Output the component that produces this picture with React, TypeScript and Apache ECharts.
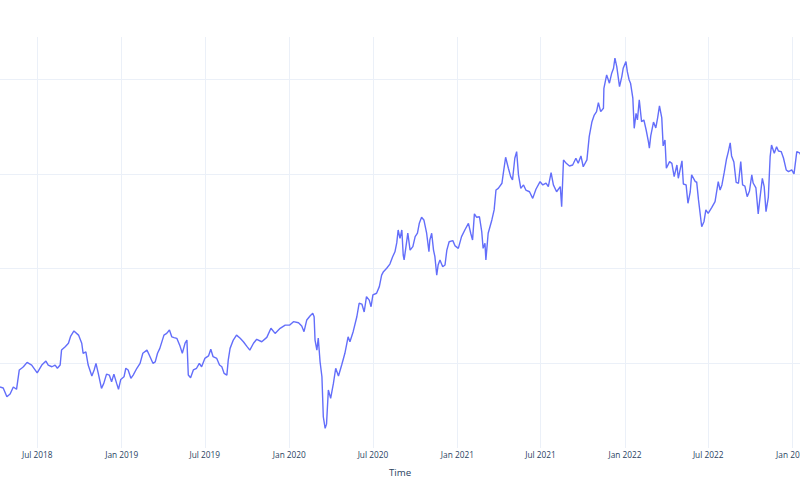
import React, { useEffect, useRef } from "react";
import * as echarts from "echarts";

const prices2018: [string, number][] = [
  ["2018-04-11", 87.5], ["2018-04-18", 87.0], ["2018-04-26", 82.4], ["2018-05-03", 83.8], ["2018-05-10", 87.5],
  ["2018-05-17", 86.3], ["2018-05-23", 96.5], ["2018-05-28", 97.4], ["2018-06-01", 98.2], ["2018-06-09", 100.5],
  ["2018-06-19", 99.1], ["2018-07-01", 95.0], ["2018-07-11", 99.1], ["2018-07-20", 101.2], ["2018-07-25", 99.1],
  ["2018-08-02", 98.2], ["2018-08-09", 99.1], ["2018-08-14", 97.4], ["2018-08-20", 99.1], ["2018-08-23", 107.0],
  ["2018-08-31", 108.8], ["2018-09-07", 110.6], ["2018-09-12", 114.4], ["2018-09-19", 117.1], ["2018-09-29", 114.9],
  ["2018-10-06", 110.6], ["2018-10-09", 105.3], ["2018-10-15", 106.1], ["2018-10-20", 99.1], ["2018-10-28", 93.3],
  ["2018-11-02", 96.5], ["2018-11-06", 100.0], ["2018-11-11", 94.7], ["2018-11-18", 86.8], ["2018-11-23", 89.4],
  ["2018-11-29", 94.3], ["2018-12-05", 93.8], ["2018-12-10", 90.3], ["2018-12-15", 94.3], ["2018-12-21", 89.4],
  ["2018-12-25", 86.3], ["2018-12-30", 91.5],
];

const prices2019: [string, number][] = [
  ["2019-01-06", 92.9], ["2019-01-10", 97.4], ["2019-01-15", 96.5], ["2019-01-21", 92.1], ["2019-01-26", 93.8],
  ["2019-02-03", 97.4], ["2019-02-10", 100.0], ["2019-02-16", 105.3], ["2019-02-25", 107.0], ["2019-03-02", 104.4],
  ["2019-03-10", 100.0], ["2019-03-15", 100.8], ["2019-03-20", 105.3], ["2019-03-25", 107.9], ["2019-04-03", 114.9],
  ["2019-04-09", 115.8], ["2019-04-15", 117.6], ["2019-04-20", 114.0], ["2019-04-25", 113.6], ["2019-05-01", 113.2],
  ["2019-05-08", 109.1], ["2019-05-13", 105.3], ["2019-05-19", 110.7], ["2019-05-23", 112.3], ["2019-05-26", 93.8],
  ["2019-05-31", 92.4], ["2019-06-06", 96.5], ["2019-06-13", 97.4], ["2019-06-19", 100.0], ["2019-06-24", 98.2],
  ["2019-07-01", 102.6], ["2019-07-09", 103.9], ["2019-07-14", 107.4], ["2019-07-19", 103.5], ["2019-07-27", 102.6],
  ["2019-08-02", 99.1], ["2019-08-07", 98.2], ["2019-08-12", 94.7], ["2019-08-18", 93.8], ["2019-08-21", 101.7],
  ["2019-08-25", 107.9], ["2019-09-01", 112.3], ["2019-09-08", 114.9], ["2019-09-16", 113.2], ["2019-09-23", 111.4],
  ["2019-10-01", 108.8], ["2019-10-07", 107.0], ["2019-10-15", 110.6], ["2019-10-22", 112.7], ["2019-11-02", 111.4],
  ["2019-11-13", 113.7], ["2019-11-22", 118.5], ["2019-12-01", 115.8], ["2019-12-12", 118.5], ["2019-12-23", 120.2],
];

const prices2020: [string, number][] = [
  ["2020-01-02", 120.2], ["2020-01-10", 122.0], ["2020-01-21", 121.4], ["2020-01-28", 119.7], ["2020-02-02", 116.7],
  ["2020-02-08", 122.9], ["2020-02-15", 125.0], ["2020-02-21", 126.4], ["2020-02-24", 124.6], ["2020-02-26", 112.3],
  ["2020-03-01", 107.0], ["2020-03-04", 113.4], ["2020-03-08", 100.7], ["2020-03-12", 92.9], ["2020-03-15", 71.8],
  ["2020-03-19", 65.7], ["2020-03-22", 67.9], ["2020-03-26", 85.9], ["2020-03-31", 81.5], ["2020-04-06", 89.4],
  ["2020-04-11", 97.4], ["2020-04-17", 93.3], ["2020-04-24", 99.1], ["2020-05-01", 105.3], ["2020-05-08", 114.0],
  ["2020-05-12", 111.4], ["2020-05-19", 116.7], ["2020-05-27", 124.6], ["2020-06-01", 131.7], ["2020-06-07", 131.3],
  ["2020-06-12", 127.1], ["2020-06-17", 135.2], ["2020-06-23", 133.4], ["2020-06-27", 129.9], ["2020-07-01", 136.1],
  ["2020-07-09", 137.0], ["2020-07-15", 140.5], ["2020-07-20", 146.6], ["2020-07-24", 148.4], ["2020-07-31", 150.2],
  ["2020-08-07", 152.4], ["2020-08-13", 156.3], ["2020-08-18", 158.9], ["2020-08-22", 163.7], ["2020-08-25", 170.4],
  ["2020-08-29", 166.0], ["2020-09-02", 170.4], ["2020-09-05", 157.2], ["2020-09-07", 154.6], ["2020-09-11", 161.6],
  ["2020-09-15", 168.7], ["2020-09-20", 159.8], ["2020-09-26", 161.6], ["2020-10-01", 166.9], ["2020-10-06", 168.7],
  ["2020-10-10", 173.9], ["2020-10-15", 177.1], ["2020-10-20", 175.7], ["2020-10-26", 168.7], ["2020-10-31", 158.9],
  ["2020-11-02", 165.1], ["2020-11-06", 168.7], ["2020-11-10", 159.8], ["2020-11-13", 156.3], ["2020-11-17", 146.6],
  ["2020-11-20", 151.9], ["2020-11-24", 154.6], ["2020-11-30", 151.0], ["2020-12-05", 151.9], ["2020-12-09", 159.8],
  ["2020-12-14", 164.2], ["2020-12-22", 164.8], ["2020-12-27", 162.0],
];

const prices2021: [string, number][] = [
  ["2021-01-03", 160.7], ["2021-01-10", 166.9], ["2021-01-18", 170.8], ["2021-01-25", 173.9], ["2021-01-30", 168.7],
  ["2021-02-03", 165.1], ["2021-02-07", 178.9], ["2021-02-12", 177.1], ["2021-02-18", 177.4], ["2021-02-23", 169.5],
  ["2021-02-26", 160.7], ["2021-03-02", 163.4], ["2021-03-04", 154.6], ["2021-03-09", 168.7], ["2021-03-17", 175.7],
  ["2021-03-22", 181.0], ["2021-03-26", 191.5], ["2021-03-31", 192.4], ["2021-04-08", 195.1], ["2021-04-11", 200.4],
  ["2021-04-16", 208.8], ["2021-04-22", 203.0], ["2021-04-27", 198.6], ["2021-05-01", 196.8], ["2021-05-06", 208.3],
  ["2021-05-10", 211.8], ["2021-05-14", 199.5], ["2021-05-19", 192.4], ["2021-05-25", 194.2], ["2021-05-30", 191.5],
  ["2021-06-07", 190.6], ["2021-06-14", 187.1], ["2021-06-21", 191.9], ["2021-06-30", 195.9], ["2021-07-06", 194.2],
  ["2021-07-13", 195.1], ["2021-07-18", 193.3], ["2021-07-24", 200.7], ["2021-07-29", 194.2], ["2021-08-05", 190.6],
  ["2021-08-13", 193.3], ["2021-08-16", 182.7], ["2021-08-20", 207.4], ["2021-08-26", 205.6], ["2021-09-02", 204.2],
  ["2021-09-09", 204.7], ["2021-09-16", 208.3], ["2021-09-21", 205.6], ["2021-09-27", 209.5], ["2021-10-02", 203.8],
  ["2021-10-10", 207.4], ["2021-10-15", 219.7], ["2021-10-21", 227.6], ["2021-10-26", 231.1], ["2021-10-31", 232.9],
  ["2021-11-04", 237.6], ["2021-11-09", 232.9], ["2021-11-15", 234.7], ["2021-11-16", 245.2], ["2021-11-22", 252.3],
  ["2021-11-28", 247.9], ["2021-12-03", 253.2], ["2021-12-07", 255.8], ["2021-12-10", 261.1], ["2021-12-14", 256.7],
  ["2021-12-20", 246.1], ["2021-12-25", 251.4], ["2021-12-28", 255.8],
];

const prices2022: [string, number][] = [
  ["2022-01-03", 259.3], ["2022-01-06", 254.0], ["2022-01-10", 249.6], ["2022-01-13", 247.9], ["2022-01-18", 240.0],
  ["2022-01-21", 224.1], ["2022-01-25", 232.0], ["2022-01-28", 228.5], ["2022-02-01", 239.1], ["2022-02-06", 227.6],
  ["2022-02-11", 228.5], ["2022-02-16", 223.2], ["2022-02-21", 216.9], ["2022-02-23", 213.6], ["2022-02-26", 220.1],
  ["2022-03-04", 227.4], ["2022-03-09", 224.3], ["2022-03-13", 229.6], ["2022-03-17", 235.9], ["2022-03-22", 229.6],
  ["2022-03-25", 214.8], ["2022-03-29", 217.9], ["2022-04-01", 203.0], ["2022-04-08", 206.5], ["2022-04-13", 205.6],
  ["2022-04-18", 198.6], ["2022-04-24", 204.7], ["2022-04-27", 197.7], ["2022-05-05", 206.9], ["2022-05-08", 194.7],
  ["2022-05-14", 194.2], ["2022-05-18", 184.5], ["2022-05-23", 190.6], ["2022-05-26", 199.5], ["2022-06-03", 195.9],
  ["2022-06-06", 195.8], ["2022-06-10", 186.3], ["2022-06-17", 172.1], ["2022-06-22", 174.9], ["2022-06-26", 181.0],
  ["2022-07-01", 179.2], ["2022-07-09", 182.3], ["2022-07-16", 185.4], ["2022-07-23", 195.9], ["2022-07-27", 191.5],
  ["2022-07-31", 194.2], ["2022-08-05", 200.8], ["2022-08-10", 207.9], ["2022-08-14", 211.8], ["2022-08-18", 216.4],
  ["2022-08-21", 209.5], ["2022-08-26", 206.3], ["2022-08-31", 195.5], ["2022-09-05", 195.1], ["2022-09-10", 206.5],
  ["2022-09-14", 194.2], ["2022-09-19", 193.6], ["2022-09-24", 188.0], ["2022-09-29", 191.0], ["2022-10-04", 199.5],
  ["2022-10-07", 195.2], ["2022-10-13", 192.6], ["2022-10-18", 178.9], ["2022-10-22", 187.6], ["2022-10-27", 197.7],
  ["2022-10-31", 193.3], ["2022-11-04", 180.1], ["2022-11-09", 187.6], ["2022-11-13", 209.1], ["2022-11-16", 215.3],
  ["2022-11-22", 210.9], ["2022-11-27", 214.4], ["2022-12-01", 212.1], ["2022-12-07", 211.8], ["2022-12-12", 208.4],
  ["2022-12-18", 202.1], ["2022-12-23", 201.2], ["2022-12-30", 202.1],
];

const prices2023: [string, number][] = [
  ["2023-01-04", 200.0], ["2023-01-10", 211.8], ["2023-01-16", 211.1], ["2023-01-19", 210.0],
];

const gridLevels = [100, 150, 200, 250];
const monthNames = ["Jan", "Feb", "Mar", "Apr", "May", "Jun", "Jul", "Aug", "Sep", "Oct", "Nov", "Dec"];

const FONT = "'Open Sans', 'DejaVu Sans', sans-serif";
const TEXT_COLOR = "#2a3f5f";
const GRID_COLOR = "#EBF0F8";
const LINE_COLOR = "#636efa";
const DAY = 86400000;

export default function App() {
  const ref = useRef<HTMLDivElement>(null);

  useEffect(() => {
    if (!ref.current) return;
    const chart = echarts.init(ref.current, undefined, { renderer: "svg", width: 800, height: 500 });
    const data = [...prices2018, ...prices2019, ...prices2020, ...prices2021, ...prices2022, ...prices2023];

    chart.setOption({
      animation: false,
      backgroundColor: "#ffffff",
      grid: { left: 0, right: 0, top: 37, bottom: 52, containLabel: false, outerBoundsMode: "none" },
      xAxis: {
        type: "time",
        min: new Date(2018, 3, 11).getTime(),
        max: new Date(2023, 0, 17).getTime(),
        minInterval: 181.5 * DAY,
        maxInterval: 181.5 * DAY,
        name: "Time",
        nameLocation: "middle",
        nameGap: 19,
        nameTextStyle: { color: TEXT_COLOR, fontFamily: FONT, fontSize: 9.7 },
        axisLine: { show: false },
        axisTick: { show: false },
        axisLabel: {
          show: true,
          showMinLabel: false,
          showMaxLabel: false,
          margin: 2,
          color: TEXT_COLOR,
          fontFamily: FONT,
          fontSize: 8.3,
          formatter: (value: number) => {
            const d = new Date(value);
            return monthNames[d.getMonth()] + " " + d.getFullYear();
          },
        },
        splitLine: {
          show: true,
          showMinLine: false,
          showMaxLine: false,
          lineStyle: { color: GRID_COLOR, width: 1 },
        },
      },
      yAxis: {
        type: "value",
        min: 55.3,
        max: 272.3,
        axisLabel: { show: false },
        axisLine: { show: false },
        axisTick: { show: false },
        splitLine: { show: false },
      },
      series: [
        {
          type: "line",
          data,
          z: 1,
          silent: true,
          symbol: "none",
          lineStyle: { opacity: 0 },
          markLine: {
            z: 1,
            silent: true,
            symbol: ["none", "none"],
            label: { show: false },
            emphasis: { disabled: true },
            lineStyle: { color: GRID_COLOR, width: 1, type: "solid" },
            data: gridLevels.map((v) => ({ yAxis: v })),
          },
        },
        {
          type: "line",
          data,
          z: 3,
          symbol: "none",
          showSymbol: false,
          lineStyle: { color: LINE_COLOR, width: 1.4 },
          itemStyle: { color: LINE_COLOR },
        },
      ],
    });

    return () => chart.dispose();
  }, []);

  return (
    <div
      ref={ref}
      style={{ position: "fixed", left: 0, top: 0, width: 800, height: 500, background: "#ffffff" }}
    />
  );
}
